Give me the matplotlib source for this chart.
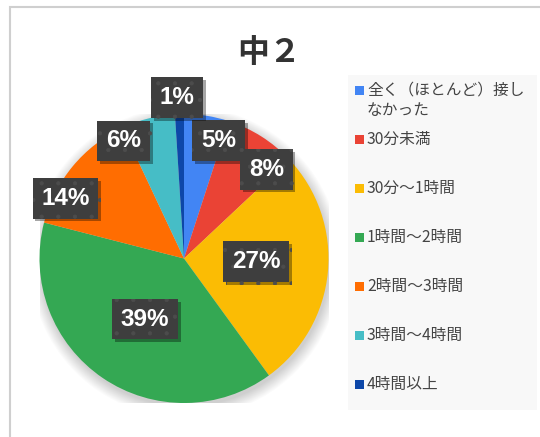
import numpy as np
import matplotlib
matplotlib.use("Agg")
import matplotlib.pyplot as plt
import matplotlib.patheffects as pe
from matplotlib.patches import Rectangle, Circle

plt.rcParams['font.family'] = ['Noto Sans CJK JP', 'DejaVu Sans']
plt.rcParams['hatch.linewidth'] = 0.6

title = "中２"
categories = ["全く（ほとんど）接し\nなかった", "30分未満", "30分〜1時間", "1時間〜2時間",
              "2時間〜3時間", "3時間〜4時間", "4時間以上"]
values = [5, 8, 27, 39, 14, 6, 1]
colors = ["#4285F4", "#EA4335", "#FBBC04", "#34A853", "#FF6D01", "#46BDC6", "#0D47A8"]

# label placement tweaks (radius as fraction of pie radius, angle nudge in degrees)
label_r = [0.85, 0.84, 0.50, 0.50, 0.92, 0.915, 1.115]
label_nudge = [-7.4, -10.3, 3.0, 1.4, 12.7, 12.8, 0.7]

W, H = 540, 437
fig = plt.figure(figsize=(W / 100, H / 100), dpi=100)
fig.patch.set_facecolor("white")

# outer frame
fig.patches.append(Rectangle((9.5 / W, -0.05), 1.2, 1 - 7 / H + 0.05, transform=fig.transFigure,
                             fill=False, edgecolor="#cfcfcf", linewidth=1.5))
# legend background
fig.patches.append(Rectangle((348 / W, 1 - 410 / H), (537 - 348) / W, (410 - 75) / H,
                             transform=fig.transFigure, facecolor="#f8f8f8", edgecolor="none"))

cx, cy, r = 184, 258.5, 144.5
ax = fig.add_axes([(cx - r) / W, 1 - (cy + r) / H, 2 * r / W, 2 * r / H])

# soft shadow round the pie
for k in range(12):
    ax.add_patch(Circle((0.01, -0.025), 1.0 + 0.007 * k, facecolor="black", alpha=0.015,
                        edgecolor="none", zorder=0))

wedges, _ = ax.pie(values, colors=colors, startangle=90, counterclock=False,
                   wedgeprops=dict(linewidth=0))
for w in wedges:
    w.set_zorder(2)
ax.set_xlim(-1, 1)
ax.set_ylim(-1, 1)
ax.set_aspect("auto")

for w, v, lr, nd in zip(wedges, values, label_r, label_nudge):
    ang = np.deg2rad((w.theta1 + w.theta2) / 2 + nd)
    t = ax.text(lr * np.cos(ang), lr * np.sin(ang), f"{v}%", ha="center", va="center",
                color="white", fontsize=17.5, fontweight="bold", family=["Liberation Sans"],
                zorder=5, clip_on=False,
                bbox=dict(boxstyle="square,pad=0.36", facecolor="#3e3e3e", edgecolor="#4c4c4c",
                          linewidth=0, hatch="."))
    t.get_bbox_patch().set_path_effects([pe.withSimplePatchShadow(offset=(2, -2), shadow_rgbFace="black", alpha=0.35), pe.Normal()])

fig.text(269 / W, 1 - 53 / H, title, ha="center", va="center", fontsize=23,
         fontweight="bold", color="#333333")

for i, (lab, c) in enumerate(zip(categories, colors)):
    y = 90 + 49 * i
    fig.patches.append(Rectangle((355 / W, 1 - (y + 4.5) / H), 8.5 / W, 8.5 / H,
                                 transform=fig.transFigure, facecolor=c, edgecolor="none"))
    fig.text(367 / W, 1 - (y - 8.5) / H, lab, ha="left", va="top", fontsize=11.3,
             color="#444444", linespacing=1.3)

fig.savefig("out.png", dpi=100)
